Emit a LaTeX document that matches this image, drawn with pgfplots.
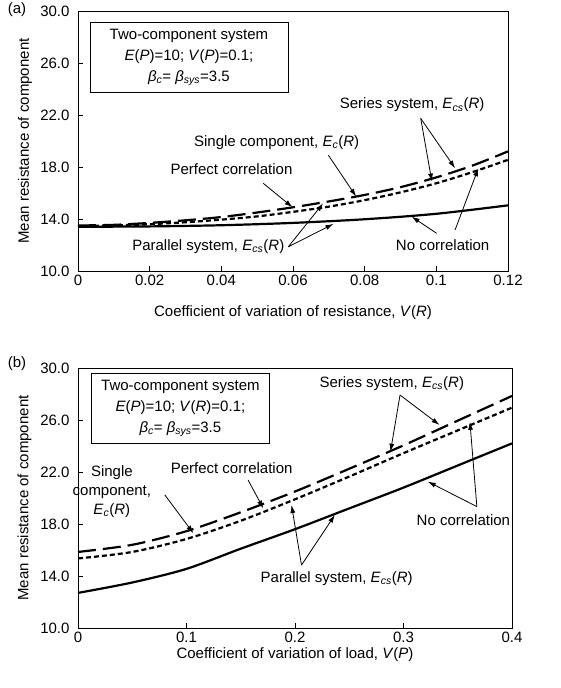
\documentclass[border=0pt]{standalone}
\usepackage{pgfplots}
\pgfplotsset{compat=1.18}
\usepackage{fontspec}
\setmainfont{Liberation Sans}
\usetikzlibrary{arrows.meta}

\newcommand\fs{\fontsize{15}{19}\selectfont}
\newcommand\Ecs{\textit{E}\textsubscript{\textit{cs}}(\textit{R})}
\newcommand\Ec{\textit{E}\textsubscript{\textit{c}}(\textit{R})}

\pgfplotsset{
  panel/.style={
    scale only axis,
    clip=false,
    ymin=10, ymax=30,
    ytick={10,14,18,22,26,30},
    yticklabel style={/pgf/number format/fixed,
      /pgf/number format/fixed zerofill,
      /pgf/number format/precision=1, xshift=-5pt},
    scaled x ticks=false,
    xtick pos=bottom, ytick pos=left,
    tick align=inside,
    major tick length=5pt,
    tick style={line width=0.6pt, black},
    axis line style={line width=0.8pt},
    /pgf/number format/assume math mode=true,
    tick label style={font=\fs},
    label style={font=\fs},
    ylabel={Mean resistance of component},
    every axis y label/.style={at={(axis description cs:-0.123,0.5)},rotate=90,anchor=center},
  },
}
\tikzset{
  series/.style={line width=2.2pt, black, dash pattern=on 18pt off 7pt},
  perfect/.style={line width=2.2pt, black, dash pattern=on 5pt off 3pt},
  nocorr/.style={line width=2.2pt, black},
  note/.style={line width=0.8pt, ->},
  infobox/.style={draw, line width=0.8pt, align=center, inner sep=0pt,
    font=\fontsize{15}{21}\selectfont},
}

\begin{document}
\begin{tikzpicture}[font=\fs, >={Latex[length=8pt,width=5pt]}]
\useasboundingbox (0,0) rectangle (561pt,688pt);

\node at (17pt,678pt) {(a)};
\node at (17pt,324pt) {(b)};

% ---------- (a) effect of V(R) ----------
\begin{axis}[panel,
  at={(78pt,417pt)}, anchor=south west,
  width=430pt, height=260pt,
  xmin=0, xmax=0.12,
  xtick={0,0.02,0.04,0.06,0.08,0.1,0.12},
  xticklabel style={/pgf/number format/fixed,/pgf/number format/precision=2},
  xlabel={Coefficient of variation of resistance, \textit{V}(\textit{R})},
  every axis x label/.style={at={(axis description cs:0.5,-0.162)},anchor=center},
]
\addplot[series, smooth] coordinates {
  (0,13.5) (0.01,13.55) (0.02,13.7) (0.03,13.9) (0.04,14.15) (0.05,14.5)
  (0.06,14.9) (0.07,15.35) (0.08,15.85) (0.09,16.45) (0.10,17.2)
  (0.11,18.1) (0.12,19.2)};
\addplot[perfect, smooth] coordinates {
  (0,13.45) (0.01,13.5) (0.02,13.6) (0.03,13.75) (0.04,13.95) (0.05,14.2)
  (0.06,14.55) (0.07,14.95) (0.08,15.45) (0.09,16.05) (0.10,16.75)
  (0.11,17.6) (0.12,18.55)};
\addplot[nocorr, smooth] coordinates {
  (0,13.4) (0.02,13.43) (0.04,13.52) (0.06,13.7) (0.08,13.98)
  (0.10,14.4) (0.12,15.05)};

\node[infobox, minimum width=198pt, minimum height=70pt]
  at (rel axis cs:0.258,0.823)
  {Two-component system\\
   \textit{E}(\textit{P})=10; \textit{V}(\textit{P})=0.1;\\
   \textit{β}\textsubscript{\textit{c}}= \textit{β}\textsubscript{\textit{sys}}=3.5};

\node at (rel axis cs:0.777,0.638) {Series system, \Ecs};
\draw[note] (rel axis cs:0.797,0.587) -- (rel axis cs:0.823,0.344);
\draw[note] (rel axis cs:0.797,0.587) -- (rel axis cs:0.877,0.395);

\node at (rel axis cs:0.462,0.493) {Single component, \Ec};
\draw[note] (rel axis cs:0.582,0.446) -- (rel axis cs:0.647,0.286);

\node at (rel axis cs:0.357,0.391) {Perfect correlation};
\draw[note] (rel axis cs:0.431,0.337) -- (rel axis cs:0.499,0.245);

\node at (rel axis cs:0.303,0.093) {Parallel system, \Ecs};
\draw[note] (rel axis cs:0.489,0.093) -- (rel axis cs:0.570,0.260);
\draw[note] (rel axis cs:0.489,0.093) -- (rel axis cs:0.594,0.181);

\node at (rel axis cs:0.848,0.099) {No correlation};
\draw[note] (rel axis cs:0.834,0.145) -- (rel axis cs:0.776,0.209);
\draw[note] (rel axis cs:0.877,0.158) -- (rel axis cs:0.931,0.395);
\end{axis}

% ---------- (b) effect of V(P) ----------
\begin{axis}[panel,
  at={(78pt,60pt)}, anchor=south west,
  width=434pt, height=260pt,
  xmin=0, xmax=0.4,
  xtick={0,0.1,0.2,0.3,0.4},
  xticklabel style={/pgf/number format/fixed,/pgf/number format/precision=1},
  xlabel={Coefficient of variation of load, \textit{V}(\textit{P})},
  every axis x label/.style={at={(axis description cs:0.5,-0.104)},anchor=center},
]
\addplot[series, smooth] coordinates {
  (0,15.85) (0.05,16.4) (0.1,17.45) (0.15,18.9) (0.2,20.5)
  (0.25,22.25) (0.3,24.05) (0.35,25.95) (0.4,27.85)};
\addplot[perfect, smooth] coordinates {
  (0,15.35) (0.05,15.85) (0.1,16.85) (0.15,18.25) (0.2,19.9)
  (0.25,21.65) (0.3,23.45) (0.35,25.2) (0.4,26.95)};
\addplot[nocorr, smooth] coordinates {
  (0,12.7) (0.05,13.5) (0.1,14.55) (0.15,16.1) (0.2,17.6)
  (0.25,19.2) (0.3,20.8) (0.35,22.5) (0.4,24.2)};

\node[infobox, minimum width=178pt, minimum height=70pt]
  at (rel axis cs:0.236,0.845)
  {Two-component system\\
   \textit{E}(\textit{P})=10; \textit{V}(\textit{R})=0.1;\\
   \textit{β}\textsubscript{\textit{c}}= \textit{β}\textsubscript{\textit{sys}}=3.5};

\node at (rel axis cs:0.723,0.941) {Series system, \Ecs};
\draw[note] (rel axis cs:0.742,0.896) -- (rel axis cs:0.720,0.678);
\draw[note] (rel axis cs:0.742,0.896) -- (rel axis cs:0.833,0.781);

\node[align=center, font=\fontsize{15}{19}\selectfont]
  at (rel axis cs:0.078,0.524) {Single\\component,\\\Ec};
\draw[note] (rel axis cs:0.200,0.512) -- (rel axis cs:0.266,0.364);

\node at (rel axis cs:0.354,0.614) {Perfect correlation};
\draw[note] (rel axis cs:0.392,0.569) -- (rel axis cs:0.427,0.460);

\node at (rel axis cs:0.596,0.191) {Parallel system, \Ecs};
\draw[note] (rel axis cs:0.515,0.242) -- (rel axis cs:0.492,0.473);
\draw[note] (rel axis cs:0.515,0.242) -- (rel axis cs:0.592,0.435);

\node at (rel axis cs:0.888,0.415) {No correlation};
\draw[note] (rel axis cs:0.919,0.467) -- (rel axis cs:0.806,0.563);
\draw[note] (rel axis cs:0.919,0.467) -- (rel axis cs:0.903,0.793);
\end{axis}
\end{tikzpicture}
\end{document}
